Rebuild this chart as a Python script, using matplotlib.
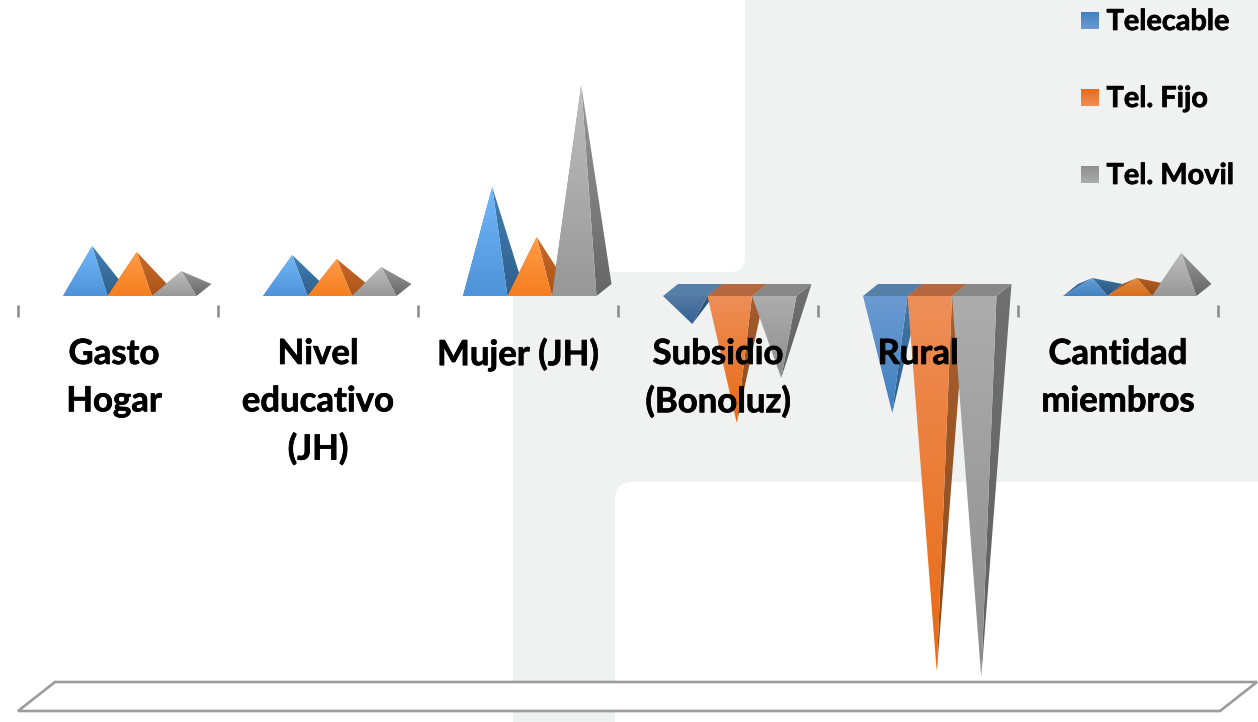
import numpy as np
import matplotlib
matplotlib.use("Agg")
import matplotlib.pyplot as plt
import matplotlib.patheffects as pe
from matplotlib.patches import Polygon, Rectangle, FancyBboxPatch
from matplotlib.colors import to_rgb

# values
categories = ["Gasto\nHogar", "Nivel\neducativo\n(JH)", "Mujer (JH)", "Subsidio\n(Bonoluz)", "Rural", "Cantidad\nmiembros"]
telecable = [11, 8.75, 25.75, -8.5, -30.75, 3]
tel_fijo = [9.5, 7.75, 13.25, -33.25, -95.5, 3]
tel_movil = [4.75, 5.75, 51.25, -22, -96.75, 9.25]
series_names = ["Telecable", "Tel. Fijo", "Tel. Movil"]
series_values = [telecable, tel_fijo, tel_movil]

# light top, light bottom, side top, side bottom, lid
pos_colors = [("#72B7F9", "#4E93D8", "#4380B5", "#2E5F8C"),
              ("#FF9C48", "#F57E1F", "#CC6A28", "#A9541A"),
              ("#BEBEBE", "#989898", "#999999", "#666666")]
neg_colors = [("#6C9BD2", "#3F7FC0", "#4A7BA8", "#2C5E8C", "#567FA8"),
              ("#EE8E58", "#E86A12", "#A85F30", "#8A4A18", "#B5673F"),
              ("#ADADAD", "#8D8D8D", "#707070", "#606060", "#888888")]

W, H = 1258, 722
BAR_W = 0.2225
GROUP_PAD = 0.225
DX, DY = 0.075, 1.5   # depth of the 3d box
APEX_DX = 0.035


def gradient(ax, poly, top, bottom, zorder, shade=1.0):
    c1, c2 = np.array(to_rgb(top)) * shade, np.array(to_rgb(bottom)) * shade
    t = np.linspace(0, 1, 128)[:, None, None]
    img = c1[None, None, :] * (1 - t) + c2[None, None, :] * t
    pts = np.array(poly)
    im = ax.imshow(img, extent=(pts[:, 0].min(), pts[:, 0].max(), pts[:, 1].min(), pts[:, 1].max()),
                   origin="upper", aspect="auto", zorder=zorder, interpolation="bilinear")
    patch = Polygon(poly, closed=True, transform=ax.transData, facecolor="none", edgecolor="none")
    ax.add_patch(patch)
    im.set_clip_path(patch)


fig = plt.figure(figsize=(W / 100, H / 100), dpi=100, facecolor="white")

# backdrop of the slide, in pixels
bg = fig.add_axes([0, 0, 1, 1], zorder=0)
bg.set_xlim(0, W)
bg.set_ylim(H, 0)
bg.axis("off")
GREY = "#F0F2F2"
bg.add_patch(Rectangle((513, 200), W - 513, H - 200, color=GREY, lw=0))
bg.add_patch(Rectangle((745, 0), W - 745, 272, color=GREY, lw=0))
bg.add_patch(FancyBboxPatch((400, -60), 345, 332, boxstyle="round,pad=0,rounding_size=15", color="white", lw=0))
bg.add_patch(FancyBboxPatch((615, 482), 800, 400, boxstyle="round,pad=0,rounding_size=18", color="white", lw=0))
# floor of the 3d chart
bg.add_patch(Polygon([(18, 711), (55, 682), (1257, 682), (1220, 711)], closed=True,
                     facecolor="white", edgecolor="#9C9C9C", lw=1.9))

ax = fig.add_axes([0, 0, 1, 1], zorder=1)
ax.patch.set_alpha(0)

for i, values in enumerate(zip(*series_values)):
    left = i + GROUP_PAD
    for s, v in enumerate(values):
        fl = left + s * BAR_W
        fr = fl + BAR_W
        front_l, front_r = (fl, -DY), (fr, -DY)
        back_l, back_r = (fl + DX, DY), (fr + DX, DY)
        apex = (fl + BAR_W / 2 + APEX_DX, v)
        z = 3 + s
        if v >= 0:
            c = pos_colors[s]
            shade = 0.88 if v < 4 else 1.0   # flat pyramids catch less light
            gradient(ax, [front_l, back_l, apex], c[2], c[3], z, shade)
            gradient(ax, [front_r, back_r, apex], c[2], c[3], z, shade)
            gradient(ax, [front_l, front_r, apex], c[0], c[1], z + 0.1, shade)
        else:
            c = neg_colors[s]
            shade = 0.78 if v > -10 else 1.0
            ax.add_patch(Polygon([front_l, front_r, back_r, back_l], closed=True,
                                 facecolor=c[4], edgecolor="none", zorder=8))
            gradient(ax, [front_r, back_r, apex], c[2], c[3], z, shade)
            gradient(ax, [front_l, front_r, apex], c[0], c[1], z + 0.1, shade)

ax.set_xlim(-18 / 200, (W - 18) / 200)
ax.set_ylim((290 - H) / 4, 290 / 4)
for name, spine in ax.spines.items():
    spine.set_visible(False)
ax.spines["bottom"].set_position(("data", -3.75))
ax.set_yticks([])
ax.set_xticks(np.arange(len(categories) + 1))
ax.set_xticklabels([])
ax.tick_params(axis="x", direction="out", length=8.6, width=1.9, color="#8F8F8F")

label_dx = [-0.02, 0, 0, 0, 0, 0]
outline = [pe.withStroke(linewidth=0.5, foreground="black")]
for i, cat in enumerate(categories):
    ax.text(i + 0.5 + label_dx[i], -12.0, cat, ha="center", va="top", fontsize=25,
            fontweight="bold", family="Lato", color="black", linespacing=1.59, zorder=10,
            path_effects=outline)

# legend, in pixels on top of everything
top = fig.add_axes([0, 0, 1, 1], zorder=2)
top.set_xlim(0, W)
top.set_ylim(H, 0)
top.axis("off")
top.patch.set_alpha(0)
for s, name in enumerate(series_names):
    y = 20.5 + s * 77
    gradient(top, [(1081, y - 9), (1099, y - 9), (1099, y + 9), (1081, y + 9)],
             neg_colors[s][0], neg_colors[s][1], 3)
    top.text(1106.5, y + 1.5, name, va="center", ha="left", fontsize=20.8, fontweight="bold",
             family="Lato", color="black", path_effects=outline)
top.set_xlim(0, W)
top.set_ylim(H, 0)

fig.savefig("out.png", dpi=100)
